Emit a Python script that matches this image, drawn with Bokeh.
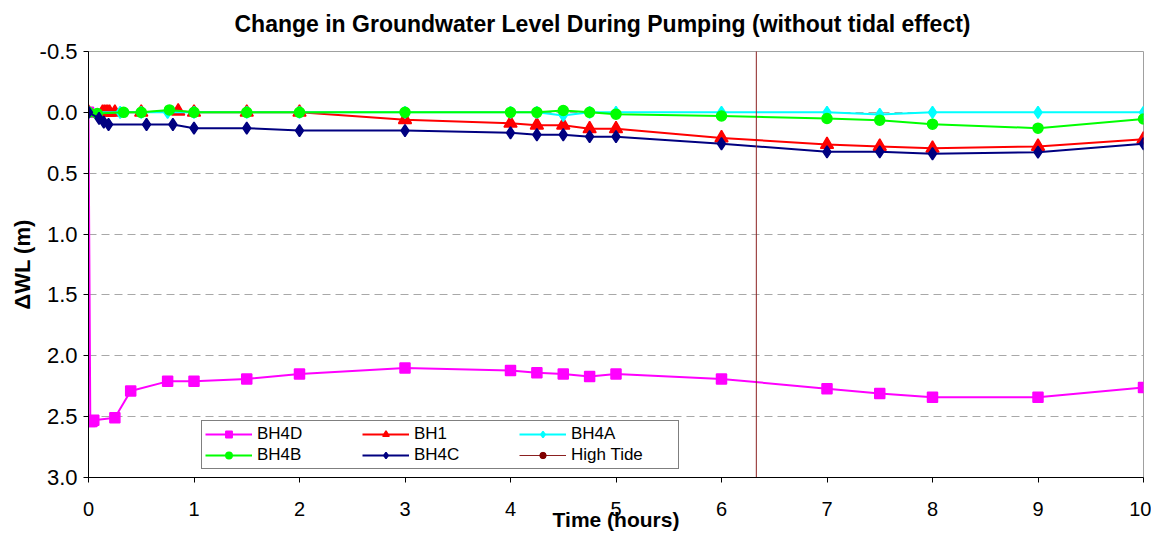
from bokeh.plotting import figure
from bokeh.models import (Range1d, FixedTicker, NumeralTickFormatter, Legend,
                          LegendItem, Title)
from bokeh.embed import file_html
from bokeh.resources import INLINE

# Elapsed pumping time (hours) and change in water level (m) per borehole
bh4d_t = [0, 0.017, 0.033, 0.05, 0.25, 0.40, 0.75, 1.0, 1.5, 2, 3, 4, 4.25, 4.5, 4.75, 5, 6, 7, 7.5, 8, 9, 10]
bh4d_wl = [0, 2.54, 2.54, 2.53, 2.51, 2.29, 2.21, 2.21, 2.19, 2.15, 2.10, 2.12, 2.14, 2.15, 2.17, 2.15, 2.19, 2.27, 2.31, 2.34, 2.34, 2.26]

bh1_t = [0, 0.133, 0.15, 0.167, 0.183, 0.2, 0.25, 0.5, 0.85, 1.0, 1.5, 2, 3, 4, 4.25, 4.5, 4.75, 5, 6, 7, 7.5, 8, 9, 10]
bh1_wl = [0, 0, 0, 0, 0, 0, 0, 0, -0.01, 0, 0, 0, 0.06, 0.09, 0.105, 0.105, 0.135, 0.135, 0.21, 0.265, 0.28, 0.295, 0.28, 0.22]

bh4a_t = [0, 0.3, 0.5, 0.75, 1.0, 1.5, 2, 3, 4, 4.25, 4.5, 4.75, 5, 6, 7, 7.5, 8, 9, 10]
bh4a_wl = [0, 0, 0, 0, 0, 0, 0, 0, 0, 0, 0.025, 0, 0, 0, 0, 0.017, 0, 0, 0]

bh4b_t = [0, 0.083, 0.333, 0.5, 0.767, 1.0, 1.5, 2, 3, 4, 4.25, 4.5, 4.75, 5, 6, 7, 7.5, 8, 9, 10]
bh4b_wl = [0, 0.01, 0, 0, -0.02, 0, 0, 0, 0, 0, 0, -0.015, 0, 0.015, 0.03, 0.05, 0.064, 0.097, 0.13, 0.055]

bh4c_t = [0, 0.1, 0.145, 0.19, 0.55, 0.8, 1.0, 1.5, 2, 3, 4, 4.25, 4.5, 4.75, 5, 6, 7, 7.5, 8, 9, 10]
bh4c_wl = [0, 0.05, 0.08, 0.1, 0.1, 0.1, 0.13, 0.13, 0.15, 0.15, 0.168, 0.184, 0.184, 0.2, 0.2, 0.258, 0.324, 0.324, 0.34, 0.327, 0.258]

# High tide marker: a vertical line at the time of high tide
tide_t = [6.33, 6.33]
tide_wl = [-1.0, 4.0]

x_ticks = [0, 1, 2, 3, 4, 5, 6, 7, 8, 9, 10]
y_ticks = [-0.5, 0.0, 0.5, 1.0, 1.5, 2.0, 2.5, 3.0]

FONT = "Liberation Sans"

p = figure(width=1151, height=537, output_backend="svg", toolbar_location=None,
           x_range=Range1d(0, 10), y_range=Range1d(3.0, -0.5),
           min_border_left=88, min_border_right=8, min_border_top=51,
           min_border_bottom=60)

# a thin blank band between the frame and the title lifts the title upward
p.add_layout(Title(text=" ", text_font_size="1px", standoff=12), "above")
p.add_layout(Title(text="Change in Groundwater Level During Pumping (without tidal effect)",
                   align="left", offset=146, text_font=FONT, text_font_size="23px",
                   text_font_style="bold", text_color="black", standoff=0), "above")

p.background_fill_color = "white"
p.border_fill_color = "white"
p.outline_line_color = "#a0a0a0"
p.outline_line_width = 1

# axes
p.xaxis.ticker = FixedTicker(ticks=x_ticks)
p.yaxis.ticker = FixedTicker(ticks=y_ticks)
p.yaxis.formatter = NumeralTickFormatter(format="0.0")
for ax in (p.xaxis[0], p.yaxis[0]):
    ax.axis_line_color = "black"
    ax.major_tick_line_color = "black"
    ax.major_tick_out = 5
    ax.major_tick_in = 0
    ax.minor_tick_line_color = None
    ax.major_label_text_font = FONT
    ax.major_label_text_color = "black"
    ax.axis_label_text_font = FONT
    ax.axis_label_text_font_style = "bold"
    ax.axis_label_text_color = "black"
p.yaxis.major_label_text_font_size = "22px"
p.yaxis.axis_label_text_font_size = "22px"
p.xaxis.major_label_text_font_size = "20px"
p.xaxis.axis_label_text_font_size = "21px"
p.xaxis.axis_label = "Time (hours)"
p.xaxis.major_label_standoff = 19
p.xaxis.axis_label_standoff = -11
p.yaxis.axis_label = "\u0394WL (m)"
p.yaxis.major_label_standoff = 6
p.yaxis.axis_label_standoff = 2

p.xgrid.grid_line_color = None
p.ygrid.grid_line_color = "#a8a8a8"
p.ygrid.grid_line_dash = "8 5"
p.ygrid.grid_line_width = 1

# name, times, levels, colour, marker, size
series = [
    ("BH4D", bh4d_t, bh4d_wl, "#FF00FF", "square", 10),
    ("BH1", bh1_t, bh1_wl, "#FF0000", "triangle", 13),
    ("BH4A", bh4a_t, bh4a_wl, "#00FFFF", "diamond", 12),
    ("BH4B", bh4b_t, bh4b_wl, "#00FF00", "circle", 10),
    ("BH4C", bh4c_t, bh4c_wl, "#000080", "diamond", 12),
]

items = []
for name, t, wl, color, marker, size in series:
    ln = p.line(t, wl, line_color=color, line_width=2)
    sc = p.scatter(t, wl, marker=marker, size=size, fill_color=color,
                   line_color=color, line_width=1.5)
    items.append(LegendItem(label=name, renderers=[ln, sc]))

tl = p.line(tide_t, tide_wl, line_color="#8B2020", line_width=1)
ts = p.scatter(tide_t, tide_wl, marker="circle", size=8, fill_color="#800000",
               line_color="#800000")
items.append(LegendItem(label="High Tide", renderers=[tl, ts]))

legend = Legend(items=items, orientation="horizontal", ncols=3,
                location=(113, 8), border_line_color="black", border_line_width=1,
                background_fill_color="white", background_fill_alpha=1.0,
                label_text_font=FONT, label_text_font_size="17px",
                label_text_color="black", glyph_width=47, glyph_height=16,
                label_width=104, label_height=16, label_standoff=5, spacing=1,
                padding=3, margin=0)
p.add_layout(legend, "center")

open("out.html", "w").write(file_html(p, INLINE))
